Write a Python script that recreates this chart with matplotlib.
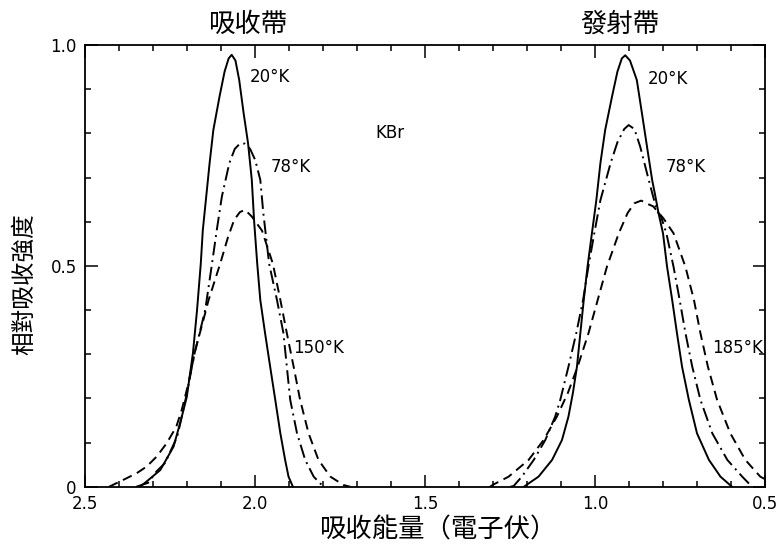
import matplotlib
matplotlib.use("Agg")
import matplotlib.pyplot as plt
from matplotlib.ticker import MultipleLocator

plt.rcParams["font.family"] = ["DejaVu Sans", "Noto Sans CJK TC"]
CJK = ["Noto Sans CJK TC", "DejaVu Sans"]

# absorption band (eV, relative intensity)
abs20_x = [2.34, 2.324, 2.279, 2.240, 2.218, 2.201, 2.183, 2.171, 2.160, 2.154, 2.144, 2.134,
           2.123, 2.105, 2.09, 2.078, 2.069, 2.058, 2.047, 2.034, 2.021, 2.010, 2.003, 1.994,
           1.985, 1.971, 1.956, 1.941, 1.926, 1.912, 1.902, 1.889]
abs20_y = [0.0, 0.009, 0.038, 0.091, 0.152, 0.204, 0.303, 0.40, 0.505, 0.581, 0.657, 0.733,
           0.808, 0.883, 0.94, 0.97, 0.978, 0.965, 0.921, 0.846, 0.778, 0.695, 0.60, 0.505,
           0.423, 0.348, 0.272, 0.197, 0.121, 0.061, 0.023, 0.0]
abs78_x = [2.35, 2.315, 2.29, 2.265, 2.229, 2.203, 2.178, 2.147, 2.127, 2.113, 2.098, 2.076,
           2.06, 2.045, 2.03, 2.015, 2.0, 1.985, 1.976, 1.959, 1.936, 1.917, 1.907, 1.897,
           1.877, 1.853, 1.828, 1.799]
abs78_y = [0.0, 0.009, 0.035, 0.054, 0.114, 0.204, 0.303, 0.40, 0.505, 0.581, 0.657, 0.733,
           0.765, 0.777, 0.777, 0.765, 0.74, 0.695, 0.619, 0.505, 0.423, 0.348, 0.272, 0.197,
           0.121, 0.061, 0.023, 0.0]
abs150_x = [2.43, 2.387, 2.348, 2.319, 2.289, 2.260, 2.232, 2.216, 2.196, 2.176, 2.155, 2.137,
            2.103, 2.080, 2.062, 2.045, 2.03, 2.01, 1.98, 1.948, 1.926, 1.907, 1.887, 1.868,
            1.843, 1.814, 1.779, 1.740, 1.72]
abs150_y = [0.0, 0.016, 0.031, 0.046, 0.069, 0.099, 0.136, 0.174, 0.235, 0.31, 0.37, 0.423,
            0.505, 0.565, 0.604, 0.622, 0.627, 0.612, 0.58, 0.505, 0.423, 0.348, 0.272, 0.197,
            0.121, 0.061, 0.023, 0.004, 0.0]

# emission band
em20_x = [1.21, 1.201, 1.167, 1.127, 1.098, 1.079, 1.066, 1.054, 1.044, 1.034, 1.023, 1.010,
          0.997, 0.985, 0.971, 0.951, 0.935, 0.922, 0.912, 0.898, 0.878, 0.863, 0.848, 0.833,
          0.824, 0.814, 0.801, 0.789, 0.774, 0.760, 0.745, 0.725, 0.701, 0.666, 0.632, 0.598]
em20_y = [0.0, 0.005, 0.023, 0.061, 0.106, 0.159, 0.212, 0.272, 0.348, 0.423, 0.498, 0.574,
          0.649, 0.733, 0.808, 0.883, 0.94, 0.97, 0.977, 0.965, 0.921, 0.846, 0.770, 0.695,
          0.66, 0.619, 0.574, 0.498, 0.423, 0.348, 0.272, 0.197, 0.121, 0.061, 0.023, 0.0]
em78_x = [1.25, 1.240, 1.216, 1.181, 1.147, 1.118, 1.103, 1.079, 1.056, 1.036, 1.02, 1.003,
          0.985, 0.955, 0.935, 0.915, 0.902, 0.885, 0.868, 0.843, 0.819, 0.807, 0.791, 0.770,
          0.752, 0.735, 0.715, 0.691, 0.656, 0.612, 0.568, 0.539]
em78_y = [0.0, 0.002, 0.023, 0.061, 0.106, 0.159, 0.197, 0.272, 0.348, 0.423, 0.50, 0.574,
          0.649, 0.733, 0.78, 0.81, 0.819, 0.81, 0.770, 0.695, 0.625, 0.612, 0.574, 0.498,
          0.423, 0.348, 0.272, 0.197, 0.121, 0.061, 0.023, 0.0]
em185_x = [1.31, 1.30, 1.255, 1.196, 1.152, 1.113, 1.081, 1.052, 1.020, 0.993, 0.966, 0.931,
           0.905, 0.885, 0.865, 0.845, 0.83, 0.80, 0.770, 0.735, 0.710, 0.691, 0.669, 0.642,
           0.603, 0.559, 0.515, 0.5]
em185_y = [0.0, 0.005, 0.023, 0.061, 0.106, 0.159, 0.212, 0.272, 0.348, 0.423, 0.498, 0.574,
           0.62, 0.642, 0.648, 0.64, 0.635, 0.608, 0.574, 0.498, 0.423, 0.348, 0.272, 0.197,
           0.121, 0.061, 0.023, 0.017]

xticks = [2.5, 2.0, 1.5, 1.0, 0.5]
xticklabels = ["2.5", "2.0", "1.5", "1.0", "0.5"]
yticks = [0, 0.5, 1.0]
yticklabels = ["0", "0.5", "1.0"]

SOLID = "-"
DASHDOT = (0, (7, 2.5, 1, 2.5))
DASHED = (0, (5, 3))

fig = plt.figure(figsize=(7.81, 5.57), dpi=100)
ax = fig.add_axes([0.109, 0.126, 0.871, 0.793])

kw = dict(color="black", lw=1.4, solid_capstyle="round")
ax.plot(abs20_x, abs20_y, ls=SOLID, **kw)
ax.plot(abs78_x, abs78_y, ls=DASHDOT, **kw)
ax.plot(abs150_x, abs150_y, ls=DASHED, **kw)
ax.plot(em20_x, em20_y, ls=SOLID, **kw)
ax.plot(em78_x, em78_y, ls=DASHDOT, **kw)
ax.plot(em185_x, em185_y, ls=DASHED, **kw)

ax.set_xlim(2.5, 0.5)
ax.set_ylim(0, 1.0)
ax.set_xticks(xticks)
ax.set_xticklabels(xticklabels)
ax.set_yticks(yticks)
ax.set_yticklabels(yticklabels)
ax.xaxis.set_minor_locator(MultipleLocator(0.1))
ax.yaxis.set_minor_locator(MultipleLocator(0.1))
ax.tick_params(which="both", direction="in", top=True, right=True, width=1.1,
               labelsize=12, pad=6)
ax.tick_params(which="major", length=9)
ax.tick_params(which="minor", length=4.5)
for s in ax.spines.values():
    s.set_linewidth(1.3)

tk = dict(fontsize=12, va="center", ha="left")
ax.text(2.015, 0.928, "20°K", **tk)
ax.text(1.956, 0.724, "78°K", **tk)
ax.text(1.888, 0.314, "150°K", **tk)
ax.text(1.603, 0.80, "KBr", fontsize=12, va="center", ha="center")
ax.text(0.847, 0.923, "20°K", **tk)
ax.text(0.794, 0.724, "78°K", **tk)
ax.text(0.656, 0.314, "185°K", **tk)

fig.text(0.3175, 0.957, "吸收帶", family=CJK, fontsize=19, ha="center", va="center")
fig.text(0.794, 0.957, "發射帶", family=CJK, fontsize=19, ha="center", va="center")
fig.text(0.032, 0.49, "相對吸收強度", family=CJK, fontsize=17, rotation=90,
         ha="center", va="center")
fig.text(0.56, 0.048, "吸收能量（電子伏）", family=CJK, fontsize=19, ha="center", va="center")

fig.savefig("out.png", dpi=100)
